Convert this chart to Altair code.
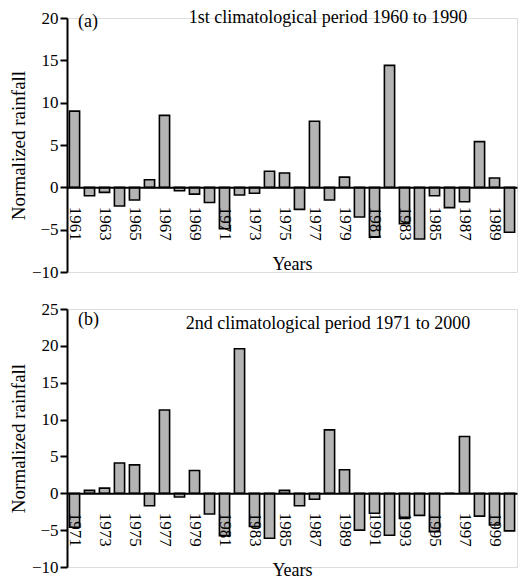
import altair as alt
import pandas as pd

# ---- data ----
years_a = [str(y) for y in range(1961, 1991)]
values_a = [9.0, -1.0, -0.6, -2.2, -1.5, 0.9, 8.5, -0.4, -0.8, -1.8,
            -4.9, -0.9, -0.7, 1.9, 1.7, -2.6, 7.8, -1.5, 1.2, -3.5,
            -5.9, 14.4, -4.3, -6.1, -1.0, -2.4, -1.7, 5.4, 1.1, -5.3]
ticks_a = [str(y) for y in range(1961, 1991, 2)]

years_b = [str(y) for y in range(1971, 2001)]
values_b = [-4.6, 0.4, 0.7, 4.1, 3.85, -1.7, 11.3, -0.5, 3.1, -2.8,
            -5.75, 19.6, -4.5, -6.1, 0.4, -1.7, -0.8, 8.6, 3.2, -5.0,
            -2.7, -5.7, -3.4, -3.0, -5.2, 0.0, 7.7, -3.1, -4.3, -5.1]
ticks_b = [str(y) for y in range(1971, 2001, 2)]

panel_tags = ["(a)", "(b)"]
panel_titles = ["1st climatological period 1960 to 1990",
                "2nd climatological period 1971 to 2000"]

FONT = "Liberation Serif"
W = 450


def panel(years, values, ticks, ymin, ymax, height, tag, title, tag_y, title_y):
    df = pd.DataFrame({"Year": years, "Value": values})
    zero_off = -height * (0 - ymin) / (ymax - ymin)
    bars = alt.Chart(df).mark_bar(
        fill="#b4b4b4", stroke="black", strokeWidth=1.6
    ).encode(
        x=alt.X("Year:N", sort=years,
                scale=alt.Scale(paddingInner=0.32, paddingOuter=0.16),
                axis=alt.Axis(values=ticks, labelAngle=90, ticks=False,
                              labelPadding=19, offset=zero_off, title="Years",
                              titlePadding=15, domainColor="black",
                              domainWidth=2, zindex=1)),
        y=alt.Y("Value:Q",
                scale=alt.Scale(domain=[ymin, ymax], nice=False),
                axis=alt.Axis(values=list(range(ymin, ymax + 1, 5)),
                              title="Normalized rainfall", grid=False,
                              tickSize=7, tickWidth=2, tickColor="black",
                              domainColor="black", domainWidth=2,
                              labelPadding=2, titlePadding=3, zindex=1)),
    )
    tdf = pd.DataFrame({"tag": [tag], "title": [title]})
    tag_txt = alt.Chart(tdf).mark_text(
        font=FONT, fontSize=18, align="left", baseline="middle", color="black"
    ).encode(text="tag:N", x=alt.value(11), y=alt.value(tag_y))
    title_txt = alt.Chart(tdf).mark_text(
        font=FONT, fontSize=18, align="center", baseline="middle", color="black"
    ).encode(text="title:N", x=alt.value(261), y=alt.value(title_y))
    return alt.layer(bars, tag_txt, title_txt).properties(width=W, height=height)


top = panel(years_a, values_a, ticks_a, -10, 20, 254, panel_tags[0],
            panel_titles[0], 4, 0)
bottom = panel(years_b, values_b, ticks_b, -10, 25, 258, panel_tags[1],
               panel_titles[1], 11, 15)

chart = alt.vconcat(top, bottom, spacing=18).properties(
    padding={"left": 0, "top": 0, "right": 0, "bottom": 0}
).configure_view(stroke=None).configure(
    background="white", font=FONT
).configure_axis(
    labelFont=FONT, titleFont=FONT, labelFontSize=17, titleFontSize=19,
    titleFontWeight="normal", labelColor="black", titleColor="black"
).configure_axisX(titleFontSize=18)

chart.save("out.html", embed_options={"renderer": "svg", "actions": False})
